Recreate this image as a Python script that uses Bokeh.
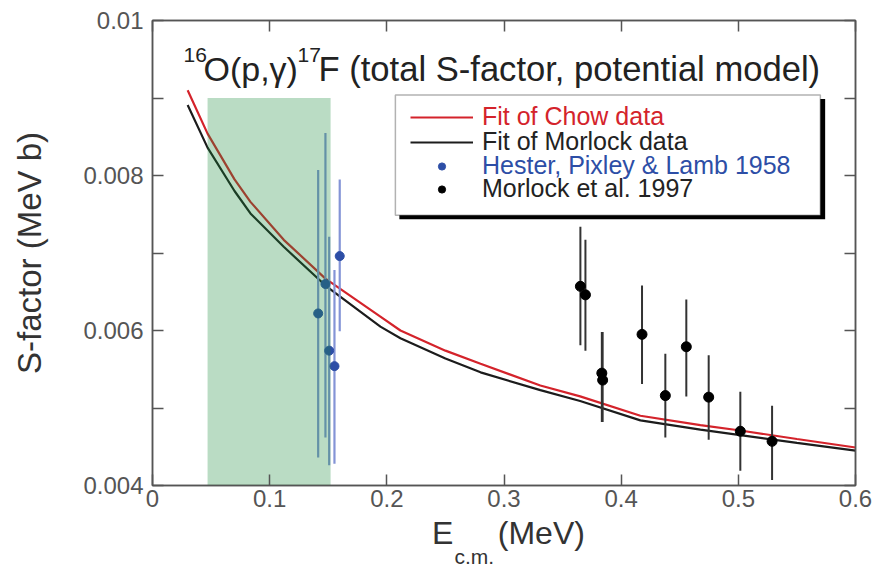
from bokeh.plotting import figure
from bokeh.models import (LinearAxis, FixedTicker, Legend, LegendItem, Label,
                          BoxAnnotation, Title)
from bokeh.embed import file_html
from bokeh.resources import INLINE

# ---------------- data ----------------
fit_x = [0.03, 0.047, 0.07, 0.0836, 0.112, 0.1476, 0.1945, 0.2116, 0.25, 0.28,
         0.331, 0.365, 0.4164, 0.4676, 0.5017, 0.55, 0.6]
chow_fit = [0.00910, 0.00854, 0.00795, 0.00766, 0.00717, 0.00667, 0.00618,
            0.00600, 0.00574, 0.00557, 0.00529, 0.00515, 0.00490, 0.00478,
            0.00471, 0.00460, 0.00449]
morlock_fit = [0.00891, 0.00836, 0.00780, 0.00751, 0.00708, 0.00658, 0.00605,
               0.00590, 0.00564, 0.00546, 0.00523, 0.00509, 0.00484, 0.00472,
               0.00465, 0.00455, 0.00445]

hester_x = [0.1414, 0.1476, 0.1508, 0.1553, 0.1598]
hester_y = [0.00622, 0.00660, 0.00574, 0.00554, 0.00696]
hester_lo = [0.00436, 0.00462, 0.00426, 0.00428, 0.00599]
hester_hi = [0.00807, 0.00855, 0.00721, 0.00678, 0.00795]

morlock_x = [0.3652, 0.3695, 0.3835, 0.3842, 0.4178, 0.4377, 0.4556, 0.4747,
             0.5017, 0.5288]
morlock_y = [0.00657, 0.00646, 0.00545, 0.00536, 0.00595, 0.00516, 0.00579,
             0.00514, 0.00470, 0.00457]
morlock_lo = [0.00581, 0.00574, 0.00482, 0.00482, 0.00531, 0.00462, 0.00515,
              0.00459, 0.00419, 0.00407]
morlock_hi = [0.00734, 0.00717, 0.00598, 0.00598, 0.00658, 0.00570, 0.00640,
              0.00568, 0.00521, 0.00503]

gamow_window = [0.047, 0.152]
gamow_top = 0.009

x_ticks = [0, 0.1, 0.2, 0.3, 0.4, 0.5, 0.6]
x_tick_labels = ["0", "0.1", "0.2", "0.3", "0.4", "0.5", "0.6"]
y_major = [0.004, 0.006, 0.008, 0.01]
y_major_labels = ["0.004", "0.006", "0.008", "0.01"]
y_minor = [0.005, 0.007, 0.009]

legend_labels = ["Fit of Chow data", "Fit of Morlock data",
                 "Hester, Pixley & Lamb 1958", "Morlock et al. 1997"]

FONT = "Liberation Sans"
RED = "#d4232b"
BLUE = "#2d4ea6"
BLUE_BAR = "#8494d6"
AX = "#555555"
NB = "\u00a0"

p = figure(x_range=(0, 0.6), y_range=(0.004, 0.01),
           frame_width=703, frame_height=465,
           min_border_left=152, min_border_right=18,
           min_border_top=20, min_border_bottom=81,
           output_backend="svg", toolbar_location=None, title=None)
p.background_fill_color = "white"
p.border_fill_color = "white"
p.grid.visible = False
p.outline_line_color = AX
p.outline_line_width = 1.5

# extra axes (ticks only)
p.add_layout(LinearAxis(), "above")
p.add_layout(LinearAxis(), "right")

for ax in p.axis:
    ax.major_tick_in = 11
    ax.major_tick_out = 0
    ax.minor_tick_in = 11
    ax.minor_tick_out = 0
    ax.axis_line_color = AX
    ax.axis_line_width = 1.5
    ax.major_tick_line_color = AX
    ax.major_tick_line_width = 1.5
    ax.minor_tick_line_color = AX
    ax.minor_tick_line_width = 1.5
    ax.major_label_text_font = FONT
    ax.major_label_text_color = AX
    ax.axis_label_text_font = FONT
    ax.axis_label_text_font_style = "normal"

xb = p.below[0]
xa = p.above[0]
yl = p.left[0]
yr = p.right[0]

for ax in (xb, xa):
    ax.ticker = FixedTicker(ticks=x_ticks, minor_ticks=[])
for ax in (yl, yr):
    ax.ticker = FixedTicker(ticks=y_major, minor_ticks=y_minor)

xb.major_label_overrides = dict(zip(x_ticks, x_tick_labels))
xb.major_label_text_font_size = "24px"
xb.major_label_standoff = 4
xb.axis_label = NB + "E" + NB * 5 + "(MeV)"
xb.axis_label_text_font_size = "32px"
xb.axis_label_text_color = "#333333"
xb.axis_label_standoff = 5

yl.major_label_overrides = dict(zip(y_major, y_major_labels))
yl.major_label_text_font_size = "24px"
yl.major_label_standoff = 9
yl.axis_label = "S-factor (MeV b)"
yl.axis_label_text_font_size = "33px"
yl.axis_label_text_color = "#333333"
yl.axis_label_standoff = 32

for ax in (xa, yr):
    ax.major_label_overrides = {t: "" for t in (x_ticks if ax is xa else y_major)}
    ax.major_label_text_font_size = "1px"
    ax.major_label_standoff = 0

# subscript of the x-axis label
p.add_layout(Title(text="c.m.", align="left", offset=302, standoff=-18,
                   vertical_align="top", text_font=FONT, text_font_size="21px",
                   text_font_style="normal", text_color="#333333"), "below")

# ---------------- glyphs ----------------
r_mfit = p.line(fit_x, morlock_fit, line_color="#1c1c1c", line_width=2.2)
r_cfit = p.line(fit_x, chow_fit, line_color=RED, line_width=2.2)

p.segment(x0=hester_x, y0=hester_lo, x1=hester_x, y1=hester_hi,
          line_color=BLUE_BAR, line_width=2.2)
r_hpts = p.scatter(hester_x, hester_y, size=9, fill_color=BLUE,
                   line_color=BLUE)

p.segment(x0=morlock_x, y0=morlock_lo, x1=morlock_x, y1=morlock_hi,
          line_color="#333333", line_width=2)
r_mpts = p.scatter(morlock_x, morlock_y, size=10, fill_color="black",
                   line_color="black")

# Gamow window shading (semi-transparent overlay)
p.quad(left=gamow_window[0], right=gamow_window[1], bottom=y_major[0],
       top=gamow_top, fill_color="#1a8a3a", fill_alpha=0.3, line_color=None)

# ---------------- legend ----------------
shadow = BoxAnnotation(left=0.2107, right=0.5741, top=0.008987, bottom=0.007436,
                       fill_color="black", fill_alpha=1, line_color=None)
box = BoxAnnotation(left=0.2073, right=0.5700, top=0.009039, bottom=0.007488,
                    fill_color="white", fill_alpha=1, line_color="black",
                    line_width=1.5)
p.add_layout(shadow)
p.add_layout(box)

leg_rows = [(r_cfit, RED, 354), (r_mfit, "#222222", 329),
            (r_hpts, BLUE, 305), (r_mpts, "#222222", 282)]
for (rend, col, ypos), lab in zip(leg_rows, legend_labels):
    lg = Legend(items=[LegendItem(label=lab, renderers=[rend])],
                location=(258, ypos), padding=0, margin=0,
                border_line_color=None, background_fill_alpha=0,
                glyph_width=63, glyph_height=18, label_height=18,
                label_standoff=9, label_text_font=FONT,
                label_text_font_size="25px", label_text_color=col)
    p.add_layout(lg)

# ---------------- title ----------------
def lab(text, x, y, size, color="#222222"):
    p.add_layout(Label(x=x, y=y, x_units="screen", y_units="screen", text=text,
                       text_font=FONT, text_font_size=size, text_color=color,
                       text_align="left", text_baseline="alphabetic"))

lab("16", 31, 431, "21px")
lab("O(p,\u03b3)", 51, 417, "34px")
lab("17", 145, 431, "21px")
lab("F (total S-factor, potential model)", 166, 417, "34.6px")

open("out.html", "w").write(file_html(p, INLINE))
